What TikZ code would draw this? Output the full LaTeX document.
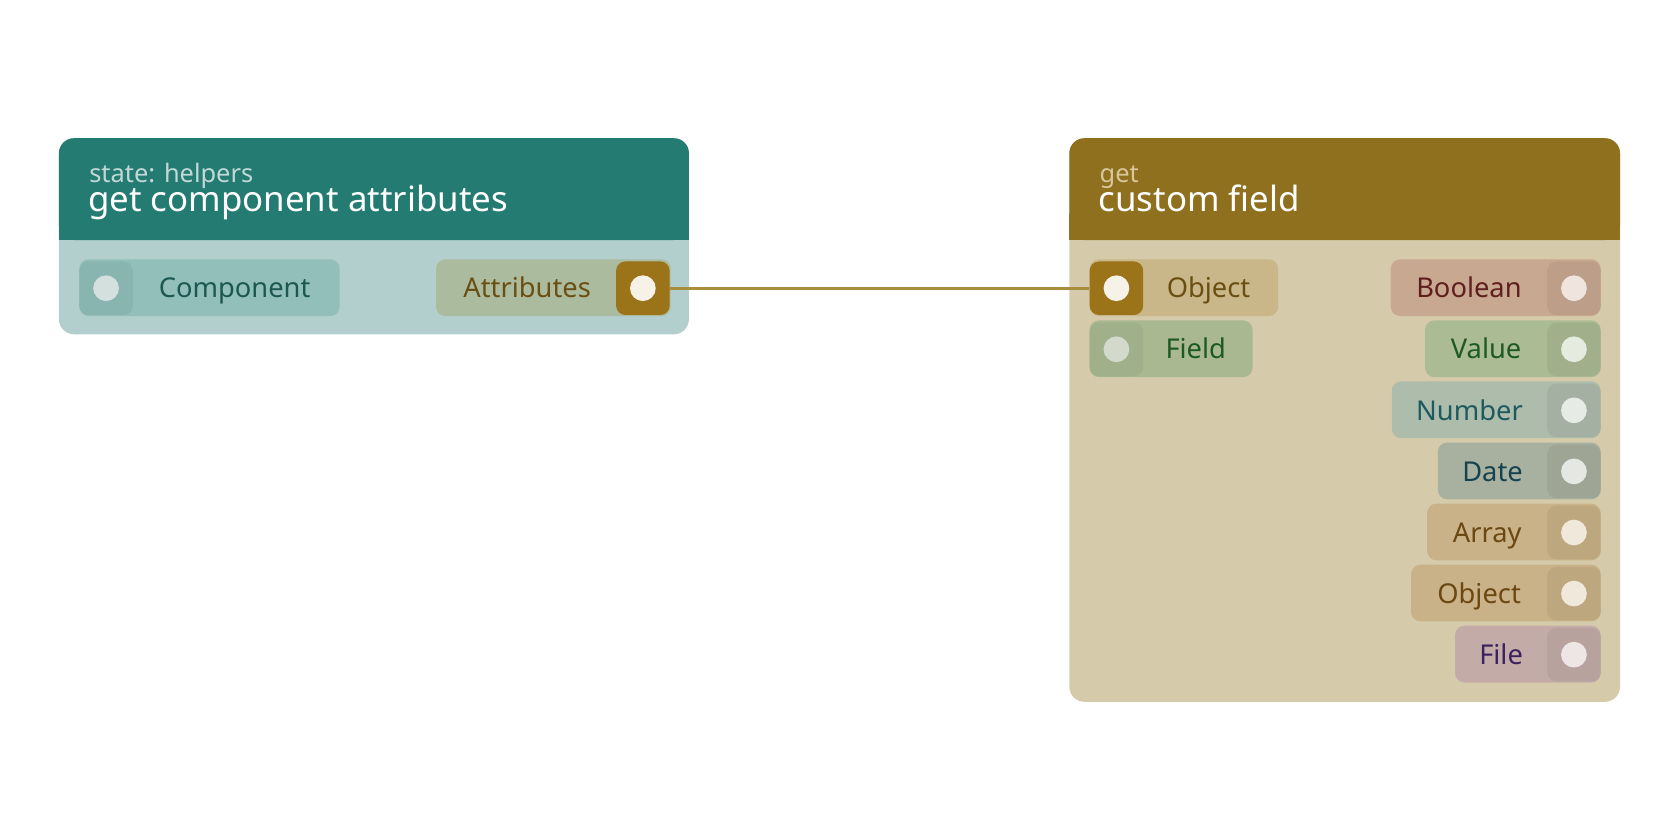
\documentclass[tikz,border=0pt]{standalone}
\usepackage{fontspec}
\setmainfont{Noto Sans}
\usetikzlibrary{positioning}
\definecolor{tealhead}{HTML}{237B72}
\definecolor{tealbody}{HTML}{B3CFCD}
\definecolor{goldhead}{HTML}{8E701F}
\definecolor{goldbody}{HTML}{D5CBAA}
\definecolor{goldport}{HTML}{9B7319}
\definecolor{wire}{HTML}{A88E3C}
\tikzset{font=\fontsize{14.5}{17}\selectfont}
\tikzstyle{pill}=[rounded corners=5pt]
\tikzstyle{lbl}=[anchor=base,inner sep=0pt,yshift=-0.18cm]
\tikzstyle{port}=[rectangle,rounded corners=5pt,minimum size=1cm,inner sep=0pt]
\tikzstyle{dot}=[circle,inner sep=0pt,minimum size=0.48cm]
\tikzstyle{head}=[anchor=base west,inner sep=0pt]
\begin{document}
\begin{tikzpicture}[x=0.02cm,y=-0.02cm]
\useasboundingbox (0,0) rectangle (1568,784);
% left node
\fill[tealbody,rounded corners=8pt] (55,129) rectangle (643,312);
\fill[tealhead,rounded corners=8pt] (55,224) |- (643,129) -- (643,224) -- cycle;
\fill[tealhead] (55,200) rectangle (643,224);
\node[head,text=tealbody!80!white,font=\fontsize{13.5}{15}\selectfont] (lsub) at (83,170) {state: helpers};
\node[head,text=white,font=\fontsize{18.5}{20}\selectfont] (ltitle) at (82,197) {get component attributes};
\fill[pill,fill={rgb,255:red,146;green,191;blue,185}] (74,242) rectangle (317,295);
\node[port,fill={rgb,255:red,136;green,181;blue,175}] (compport) at (99,269) {};
\node[dot,fill={rgb,255:red,211;green,224;blue,222}] at (compport) {};
\node[lbl,text={rgb,255:red,29;green,87;blue,82}] (comp) at (219,269) {Component};
\fill[pill,fill={rgb,255:red,171;green,187;blue,157}] (407,242) rectangle (626,295);
\node[port,fill=goldport] (attrport) at (600,269) {};
\node[dot,fill={rgb,255:red,247;green,242;blue,232}] at (attrport) {};
\node[lbl,text={rgb,255:red,107;green,79;blue,18}] (attr) at (492,269) {Attributes};
% right node
\fill[goldbody,rounded corners=8pt] (998,129) rectangle (1512,655);
\fill[goldhead,rounded corners=8pt] (998,224) |- (1512,129) -- (1512,224) -- cycle;
\fill[goldhead] (998,200) rectangle (1512,224);
\node[head,text={rgb,255:red,217;green,198;blue,154},font=\fontsize{13.5}{15}\selectfont] (rsub) at (1026,170) {get};
\node[head,text=white,font=\fontsize{18.5}{20}\selectfont] (rtitle) at (1025,197) {custom field};
\fill[pill,fill={rgb,255:red,201;green,183;blue,137}] (1017,242) rectangle (1193,295);
\node[port,fill=goldport] (objport) at (1042,269) {};
\node[dot,fill={rgb,255:red,247;green,242;blue,232}] at (objport) {};
\node[lbl,text={rgb,255:red,107;green,79;blue,18}] (obj) at (1128,269) {Object};
\fill[pill,fill={rgb,255:red,169;green,184;blue,145}] (1017,299) rectangle (1169,352);
\node[port,fill={rgb,255:red,160;green,176;blue,138}] (fieldport) at (1042,326) {};
\node[dot,fill={rgb,255:red,211;green,218;blue,204}] at (fieldport) {};
\node[lbl,text={rgb,255:red,29;green,90;blue,34}] (field) at (1116,326) {Field};
\foreach \nm/\xl/\yc/\lbl/\fc/\tc in {
  bool/1298/269/Boolean/C9A891/5E1F1F,
  val/1330/326/Value/ABBB94/1D5A22,
  num/1299/383/Number/AEBCAC/1C5A60,
  date/1342/440/Date/A8B09F/15424F,
  arr/1332/497/Array/C9B287/6B4812,
  oobj/1317/554/Object/C9B287/6B4812,
  file/1358/611/File/C3ACA8/3B2160}{
  \definecolor{pc}{HTML}{\fc}\definecolor{tc}{HTML}{\tc}
  \fill[pill,fill=pc] (\xl,\yc-27) rectangle (1494,\yc+26);
  \node[port,fill=pc!94!black] (\nm port) at (1469,\yc) {};
  \node[dot,fill=white!70!pc] at (\nm port) {};
  \node[lbl,text=tc] (\nm) at ({(\xl+1444)/2},\yc) {\lbl};
}
\draw[wire,line width=1.4pt] (attrport.east) -- (objport.west);
\end{tikzpicture}
\end{document}
